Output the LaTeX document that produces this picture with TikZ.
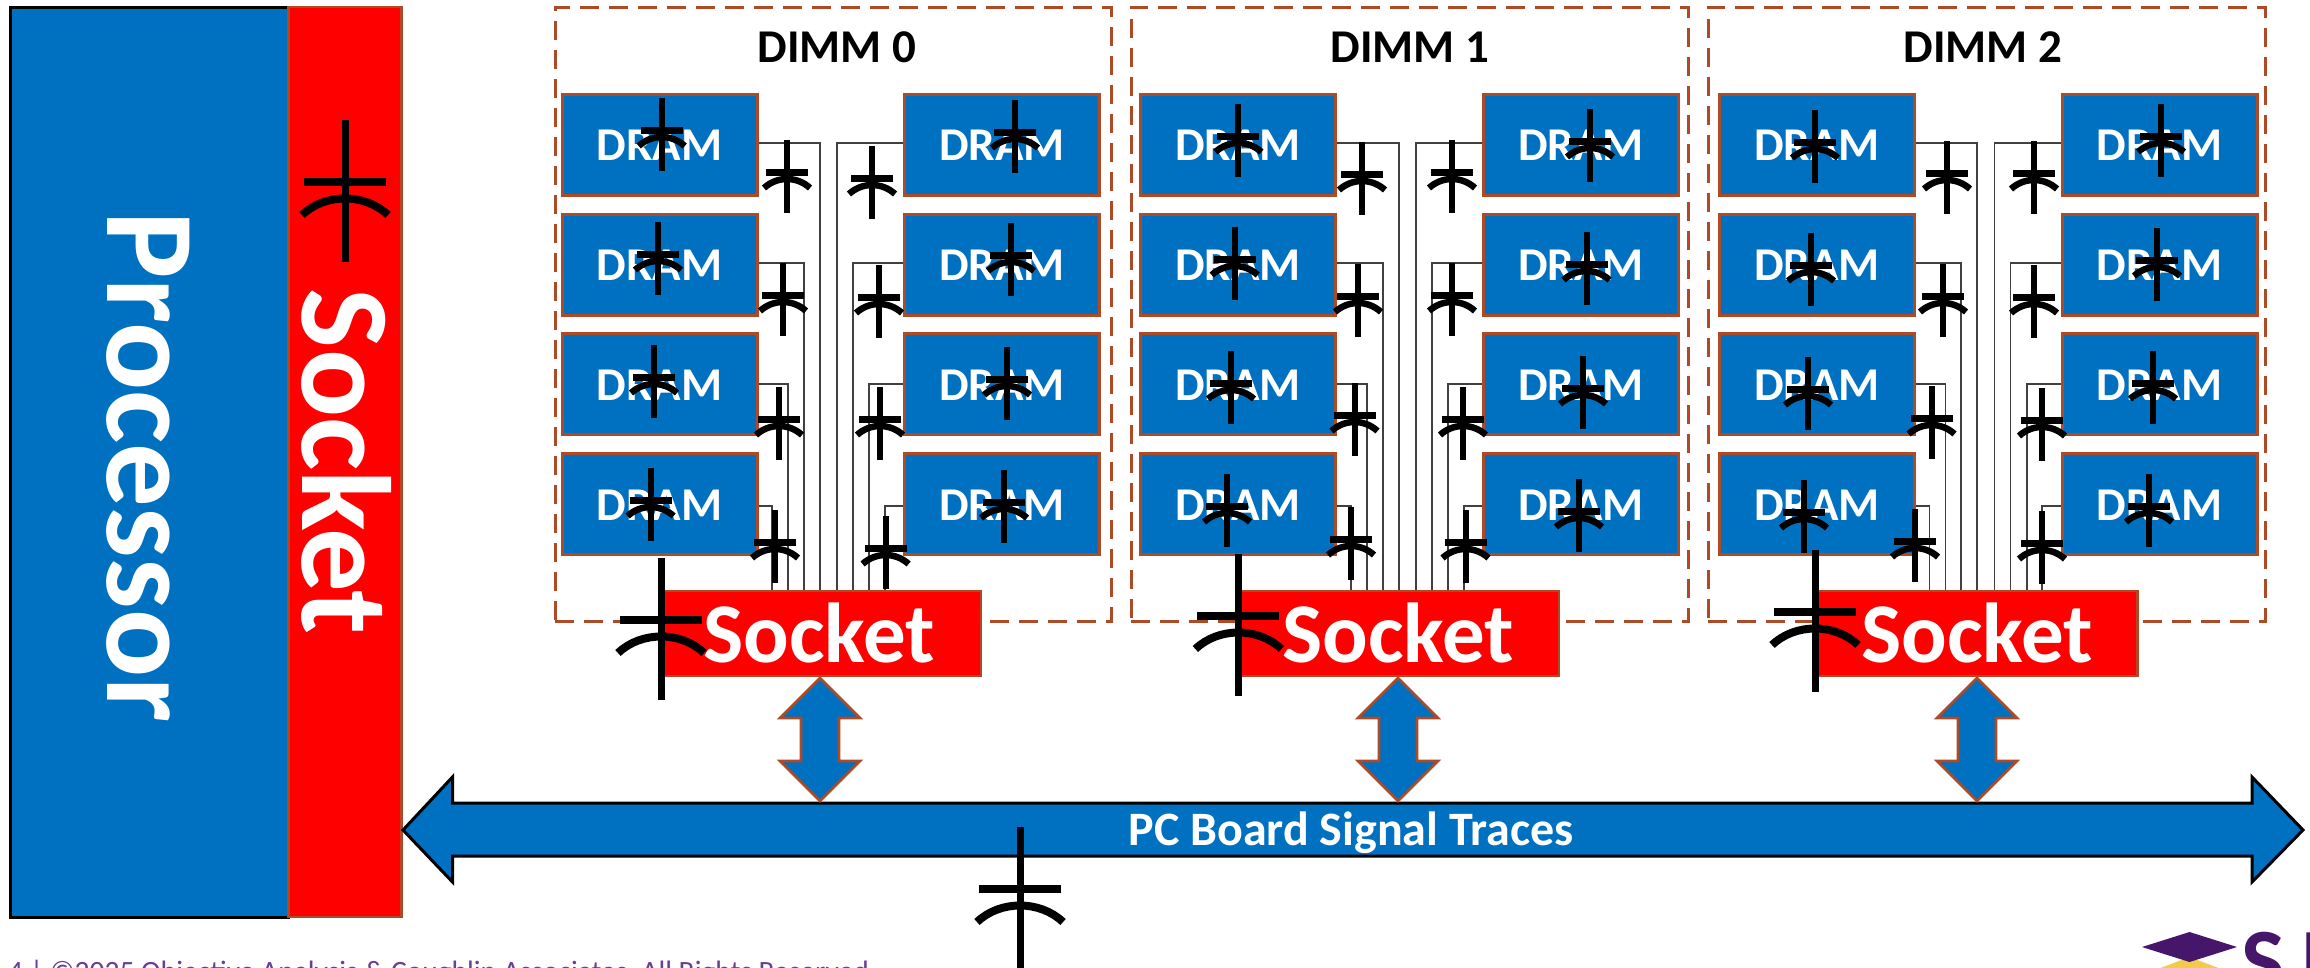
\documentclass[tikz,border=0pt]{standalone}
\usepackage{fontspec}
\setmainfont{Carlito}
\definecolor{blu}{HTML}{0070C0}
\definecolor{rim}{HTML}{AE4B26}
\definecolor{purp}{HTML}{6A3D96}
\definecolor{deep}{HTML}{46166B}
\definecolor{gold}{HTML}{F2CB4E}
\tikzset{
  dimmbox/.style={draw=rim,line width=3pt,dash pattern=on 19pt off 10pt,inner sep=0pt},
  drambox/.style={draw=rim,fill=blu,line width=3pt,inner sep=0pt,minimum width=195pt,minimum height=101pt},
  sockbox/.style={draw=rim,fill=red,line width=2.4pt,inner sep=0pt,minimum width=321pt,minimum height=85pt},
  bus/.style={draw=black!75,line width=1.3pt},
  lbl/.style={inner sep=0pt,anchor=base,text=white,font=\bfseries},
  blockarrow/.style={draw=rim,fill=blu,line width=2.6pt,line join=miter},
  capsmall/.pic={
    \draw[black,line width=6pt] (0,0)--(0,73);
    \draw[black,line width=7pt] (-21,32)--(21,32);
    \draw[black,line width=6.5pt] (-23,48) .. controls (-10,36) and (10,36) .. (23,48);
  },
  caplarge/.pic={
    \draw[black,line width=7pt] (0,0)--(0,142);
    \draw[black,line width=7.5pt] (-41,62)--(41,62);
    \draw[black,line width=8pt] (-43,95) .. controls (-20,73) and (20,73) .. (43,95);
  }
}
\newcommand{\dramrows}[2]{% prefix, center x
  \node[drambox] (#1a) at (#2,145) {};
  \node[drambox] (#1b) at (#2,264.5) {};
  \node[drambox] (#1c) at (#2,384) {};
  \node[drambox] (#1d) at (#2,504) {};
  \node[lbl,font=\fontsize{47}{47}\selectfont\bfseries] (#1at) at (#2,160) {DRAM};
  \node[lbl,font=\fontsize{47}{47}\selectfont\bfseries] (#1bt) at (#2,280) {DRAM};
  \node[lbl,font=\fontsize{47}{47}\selectfont\bfseries] (#1ct) at (#2,400) {DRAM};
  \node[lbl,font=\fontsize{47}{47}\selectfont\bfseries] (#1dt) at (#2,520) {DRAM};
}
\newcommand{\dimmset}[4]{% n, box x1, box x2, title cx
  \node[dimmbox,minimum width=#3-#2,minimum height=614pt] (box#1) at ({(#2+#3)/2},314) {};
  \node[lbl,text=black,font=\fontsize{47}{47}\selectfont\bfseries] (title#1) at (#4,62) {DIMM #1};
}
\newcommand{\wire}[5]{% dram, anchor, socket end name, x, yshift
  \coordinate (#3) at (#4,591);
  \draw[bus] ([yshift=#5pt]#1.#2) -| (#3);
}
\newcommand{\varrow}[1]{%
  \draw[blockarrow] (#1,678)--(#1+40,718)--(#1+19,718)--(#1+19,761)--(#1+40,761)--(#1,801)--(#1-40,761)--(#1-19,761)--(#1-19,718)--(#1-40,718)--cycle;
}
\begin{document}
\begin{tikzpicture}[x=1pt,y=-1pt]
\useasboundingbox (0,0) rectangle (2310,967);
\clip (0,0) rectangle (2310,967);
% processor and socket
\node[draw=black,fill=blu,line width=3pt,inner sep=0pt,minimum width=278pt,minimum height=910pt] (proc) at (149.5,462) {};
\node[draw=rim,fill=red,line width=2.4pt,inner sep=0pt,minimum width=113pt,minimum height=910pt] (psock) at (345,462) {};
\node[lbl,rotate=-90,font=\fontsize{127}{127}\selectfont\bfseries] (proct) at (107,467) {Processor};
\node[lbl,rotate=-90,font=\fontsize{127}{127}\selectfont\bfseries] (psockt) at (302,462) {Socket};
% dimm boxes
\dimmset{0}{555}{1111}{837}
\dimmset{1}{1131}{1688}{1410}
\dimmset{2}{1708}{2265}{1983}
% dram
\dramrows{d0l}{659.5}
\dramrows{d0r}{1002}
\dramrows{d1l}{1238}
\dramrows{d1r}{1581}
\dramrows{d2l}{1817}
\dramrows{d2r}{2159.5}
% wires
\foreach \d/\an/\xa/\xb/\xc/\xe in {d0l/east/820/804/788/772, d1l/east/1399/1383/1367/1351, d2l/east/1977/1961/1945.5/1929.6, d0r/west/837/853/869/885, d1r/west/1416/1432/1448/1464, d2r/west/1994.6/2010.5/2027/2042}{
  \wire{\d a}{\an}{\d ea}{\xa}{2}
  \wire{\d b}{\an}{\d eb}{\xb}{1.5}
  \wire{\d c}{\an}{\d ec}{\xc}{0}
  \wire{\d d}{\an}{\d ed}{\xe}{-2}
}
% sockets
\node[sockbox] (s0) at (820.5,633.5) {};
\node[sockbox] (s1) at (1398.5,633.5) {};
\node[sockbox] (s2) at (1977,633.5) {};
\foreach \n/\x in {0/819,1/1398,2/1977}{
  \node[lbl,font=\fontsize{85}{85}\selectfont\bfseries] (st\n) at (\x,662) {Socket};
}
% board bus
\draw[draw=black,fill=blu,line width=3pt,line join=miter] (403,830)--(452.5,777)--(452.5,803)--(2252,803)--(2252,777)--(2303,830)--(2252,882)--(2252,856)--(452.5,856)--(452.5,882)--cycle;
\node[lbl,font=\fontsize{48}{48}\selectfont\bfseries] (pcb) at (1351,845) {PC Board Signal Traces};
\varrow{820}
\varrow{1398}
\varrow{1977}
% capacitors
\foreach \x/\y in {661.7/98,658/222,654/345,650.6/468, 787/140,783/263,779/387,775/510, 872/146,879/265,880/387,885.6/516, 1015/100,1011/223,1007/347,1004/470,
 1238.4/104,1234.7/227,1231/351,1227/474, 1362/142,1358/264,1354.5/383,1351/507, 1452/140,1452/263,1463/387,1465.5/510, 1590/109,1586.5/232,1583/356,1579/479,
 1815/110,1811/233,1808/357,1804/480, 1947/141,1943/264,1931.5/386,1915/509, 2034/141,2034/265,2042/388,2042/511, 2161/104,2157/228,2153/351,2149/474}{
  \pic at (\x,\y) {capsmall};
}
\foreach \x/\y in {345/120,661/558,1238.4/554,1815/550,1020/827}{
  \pic at (\x,\y) {caplarge};
}
% footer
\node[inner sep=0pt,anchor=base west,text=purp,font=\fontsize{29.5}{29.5}\selectfont] (foot) at (8,981) {4 | ©2025 Objective Analysis \& Coughlin Associates, All Rights Reserved};
% logo
\fill[gold] (2142,975)--(2189.5,957)--(2237,975)--(2189.5,993)--cycle;
\fill[deep] (2142,947)--(2189.5,932)--(2237,947)--(2189.5,962)--cycle;
\node[inner sep=0pt,anchor=base west,text=deep,font=\fontsize{92}{92}\selectfont\bfseries] (logoS) at (2241,992) {S};
\node[inner sep=0pt,anchor=base west,text=deep,font=\fontsize{92}{92}\selectfont\bfseries] (logoI) at (2300,992) {I};
\end{tikzpicture}
\end{document}
